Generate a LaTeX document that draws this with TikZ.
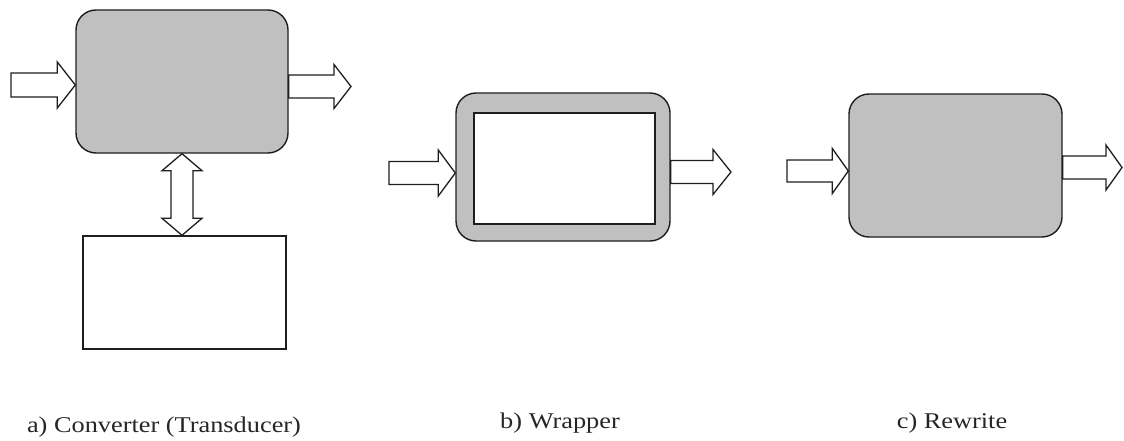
\documentclass[tikz,border=0pt]{standalone}
\usepackage{fontspec}
\setmainfont{Liberation Serif}
\usetikzlibrary{calc}
\definecolor{boxgray}{RGB}{192,192,192}
\definecolor{edge}{RGB}{30,30,30}
\tikzset{
  graybox/.style={draw=edge, line width=1.4pt, fill=boxgray, rounded corners=20pt, inner sep=0pt},
  whitebox/.style={draw=edge, line width=1.4pt, fill=white, inner sep=0pt},
  blockarrow/.style={draw=edge, line width=1.3pt, fill=white, line join=miter},
  caption/.style={font=\fontsize{22.5}{26}\selectfont, text=black!85, xscale=1.17, anchor=base, inner sep=0pt}
}
% horizontal block arrow: #1 tail, #2 tip node anchor, #3 half shaft, #4 half head, #5 head length
\newcommand{\hblock}[5]{%
  \draw[blockarrow] let \p1=(#1), \p2=(#2) in
    (\x1,\y1+#3) -- (\x2-#5,\y1+#3) -- (\x2-#5,\y1+#4) -- (\x2,\y1)
    -- (\x2-#5,\y1-#4) -- (\x2-#5,\y1-#3) -- (\x1,\y1-#3) -- cycle;}
\begin{document}
\begin{tikzpicture}[x=1pt,y=-1pt]
\useasboundingbox (0,0) rectangle (1124,441);
% ---------- a) Converter
\node[graybox, minimum width=212pt, minimum height=143pt] (A) at (182,81.5) {};
\node[whitebox, minimum width=203pt, minimum height=113pt] (Aw) at (184.5,292.5) {};
\coordinate (ain) at (11,85);
\coordinate (aouttip) at (351,86.5);
\hblock{ain}{A.west}{12pt}{23pt}{18pt}
\hblock{A.east |- aouttip}{aouttip}{11.5pt}{22pt}{17pt}
% vertical double arrow between A and Aw
\draw[blockarrow] let \p1=(A.south), \p2=(Aw.north) in
  (\x1,\y1) -- (\x1+20pt,\y1-17pt) -- (\x1+11pt,\y1-17pt) -- (\x1+11pt,\y2+17pt)
  -- (\x1+20pt,\y2+17pt) -- (\x1,\y2) -- (\x1-20pt,\y2+17pt) -- (\x1-11pt,\y2+17pt)
  -- (\x1-11pt,\y1-17pt) -- (\x1-20pt,\y1-17pt) -- cycle;
\node[caption] (capa) at (164,432) {a) Converter (Transducer)};
% ---------- b) Wrapper
\node[graybox, minimum width=214pt, minimum height=148pt] (B) at (563,167) {};
\node[whitebox, minimum width=181pt, minimum height=111pt] (Bw) at (564.5,168.5) {};
\coordinate (bin) at (389,173);
\coordinate (bouttip) at (731,172);
\hblock{bin}{B.west}{11.5pt}{23pt}{17pt}
\hblock{B.east |- bouttip}{bouttip}{11.5pt}{22.5pt}{18pt}
\node[caption] (capb) at (560,428) {b) Wrapper};
% ---------- c) Rewrite
\node[graybox, minimum width=213pt, minimum height=143pt] (C) at (955.5,165.5) {};
\coordinate (cin) at (787,171);
\coordinate (couttip) at (1122,167.5);
\hblock{cin}{C.west}{11pt}{22.5pt}{16pt}
\hblock{C.east |- couttip}{couttip}{11.5pt}{22.5pt}{16pt}
\node[caption] (capc) at (952,428) {c) Rewrite};
\end{tikzpicture}
\end{document}
